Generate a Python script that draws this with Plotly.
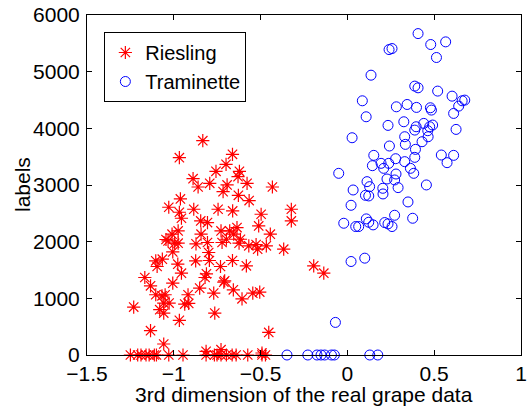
import plotly.graph_objects as go

# Riesling (red asterisks)
riesling_x = [-0.833, -0.968, -0.662, -0.699, -0.757, -0.622, -0.889, -0.630, -0.578, -0.860,
              -0.793, -0.693, -0.716, -0.432, -0.628, -0.962, -0.566, -1.029, -0.885, -0.745,
              -0.661, -0.968, -0.956, -0.323, -0.323, -0.497, -0.845, -0.806, -0.511, -0.975,
              -1.010, -0.843, -0.444, -0.728, -0.678, -0.636, -0.655, -1.045, -1.033, -0.995,
              -0.975, -0.872, -0.806, -0.722, -0.697, -0.624, -0.616, -0.568, -0.526, -0.517,
              -0.467, -0.367, -1.006, -0.799, -0.795, -0.874, -0.662, -1.104, -1.066, -1.096,
              -0.977, -0.731, -0.582, -0.194, -0.136, -0.956, -1.167, -0.812, -0.820, -1.006,
              -0.707, -0.712, -1.134, -0.851, -0.657, -1.104, -1.068, -1.050, -0.918, -0.770,
              -0.545, -0.505, -0.607, -1.058, -1.027, -0.937, -0.914, -1.231, -1.081, -1.058,
              -0.764, -0.968, -1.134, -0.453, -1.058,
              -1.250, -1.208, -1.189, -1.160, -1.142, -1.112, -1.100, -1.029, -0.947, -0.814,
              -0.766, -0.751, -0.728, -0.697, -0.664, -0.641, -0.574, -0.492, -0.472,
              -0.814, -0.728, -0.492]
riesling_y = [3782, 3482, 3541, 3365, 3241, 3241, 3112, 3147, 3030, 2965,
              3030, 3001, 2883, 2965, 2818, 2754, 2725, 2607, 2572, 2572,
              2543, 2519, 2413, 2572, 2366, 2484, 2366, 2337, 2278, 2190,
              2132, 2132, 2132, 2190, 2190, 2249, 2132, 2038, 2014, 1973,
              1973, 1961, 1985, 1985, 2043, 1973, 2043, 1926, 1950, 1867,
              1926, 1867, 1820, 1809, 1668, 1662, 1668, 1662, 1691, 1562,
              1603, 1562, 1574, 1574, 1444, 1444, 1368, 1433, 1368, 1268,
              1309, 1286, 1221, 1180, 1151, 1063, 1045, 1063, 1063, 1092,
              1092, 1110, 992, 916, 916, 898, 910, 846, 799, 740,
              740, 611, 429, 399, 194,
              0, 0, 0, 0, 0, 0, 0, 0, 0, 0,
              0, 0, 0, 0, 0, 0, 0, 0, 0,
              65, 94, 35]

# Traminette (blue circles)
traminette_x = [0.407, 0.480, 0.566, 0.257, 0.240, 0.513, 0.136, 0.388, 0.407, 0.520,
                0.603, 0.086, 0.661, 0.676, 0.344, 0.282, 0.398, 0.478, 0.484, 0.641,
                0.612, 0.108, 0.234, 0.325, 0.396, 0.388, 0.440, 0.474, 0.491, 0.463,
                0.626, 0.027, 0.330, 0.465, 0.430, 0.334, 0.242, 0.392, 0.152, 0.541,
                0.612, 0.574, 0.388, 0.278, 0.238, 0.194, 0.144, 0.330, 0.363, 0.209,
                0.382, -0.050, 0.280, 0.228, 0.113, 0.272, 0.455, 0.128, 0.033, 0.204,
                0.292, 0.104, 0.123, 0.205, 0.349, 0.021, 0.272, 0.376, -0.021, 0.109,
                0.123, 0.215, 0.234, 0.048, 0.065, 0.148, 0.257, 0.021, 0.100, -0.069,
                -0.348, -0.228, -0.175, -0.152, -0.131, -0.092, -0.075, 0.129, 0.175]
traminette_y = [5672, 5479, 5526, 5408, 5390, 5250, 4938, 4745, 4715, 4657,
                4568, 4486, 4486, 4498, 4421, 4380, 4369, 4363, 4322, 4392,
                4263, 4204, 4052, 4116, 4028, 3969, 4087, 4028, 4058, 3958,
                3981, 3834, 3852, 3852, 3764, 3717, 3688, 3629, 3523, 3529,
                3523, 3394, 3488, 3464, 3382, 3382, 3341, 3412, 3294, 3294,
                3206, 3206, 3194, 3106, 3059, 3089, 3001, 2971, 2912, 2942,
                2954, 2818, 2807, 2842, 2701, 2642, 2466, 2413, 2325, 2402,
                2343, 2337, 2314, 2267, 2267, 2296, 2267, 1650, 1709, 575,
                0, 0, 0, 0, 0, 0, 0, 0, 0]

x_ticks = [-1.5, -1, -0.5, 0, 0.5, 1]
x_ticktext = ["\u22121.5", "\u22121", "\u22120.5", "0", "0.5", "1"]
y_ticks = [0, 1000, 2000, 3000, 4000, 5000, 6000]
y_ticktext = ["0", "1000", "2000", "3000", "4000", "5000", "6000"]
x_title = "3rd dimension of the real grape data"
y_title = "labels"

FONT = "Liberation Sans, Arial, Helvetica, sans-serif"
FS = 21

fig = go.Figure()
fig.add_trace(go.Scatter(
    x=riesling_x, y=riesling_y, mode="markers", name="Riesling",
    marker=dict(symbol="asterisk-open", size=11, color="#ff0000",
                line=dict(color="#ff0000", width=1.2)),
    cliponaxis=False,
))
fig.add_trace(go.Scatter(
    x=traminette_x, y=traminette_y, mode="markers", name="Traminette",
    marker=dict(symbol="circle-open", size=10, color="#0000ff",
                line=dict(color="#0000ff", width=1)),
    cliponaxis=False,
))

axis_common = dict(
    showline=True, linecolor="black", linewidth=1, mirror="allticks",
    ticks="inside", ticklen=5, tickcolor="black", tickwidth=1,
    showgrid=False, zeroline=False, automargin=False,
    tickfont=dict(family=FONT, size=FS, color="black"),
)

fig.update_layout(
    width=532, height=406,
    margin=dict(l=87, r=11, t=15, b=51),
    paper_bgcolor="white", plot_bgcolor="white",
    font=dict(family=FONT, size=FS, color="black"),
    xaxis=dict(range=[-1.5, 1], tickvals=x_ticks, ticktext=x_ticktext,
               ticklabelstandoff=0, **axis_common),
    yaxis=dict(range=[0, 6000], tickvals=y_ticks, ticktext=y_ticktext,
               ticklabelstandoff=2, **axis_common),
    legend=dict(x=0.04, y=0.95, xanchor="left", yanchor="top",
                bgcolor="white", bordercolor="black", borderwidth=1,
                font=dict(family=FONT, size=20, color="black"),
                itemwidth=30, tracegroupgap=0),
    showlegend=True,
)

# axis titles placed as annotations to match the reference spacing
fig.add_annotation(text=x_title, xref="paper", yref="paper", x=0.5, y=0,
                   xanchor="center", yanchor="middle", yshift=-39, showarrow=False,
                   font=dict(family=FONT, size=FS, color="black"))
fig.add_annotation(text=y_title, xref="paper", yref="paper", x=0, y=0.5,
                   xanchor="center", yanchor="middle", xshift=-65, textangle=-90,
                   showarrow=False, font=dict(family=FONT, size=FS, color="black"))

fig.write_html("out.html")
